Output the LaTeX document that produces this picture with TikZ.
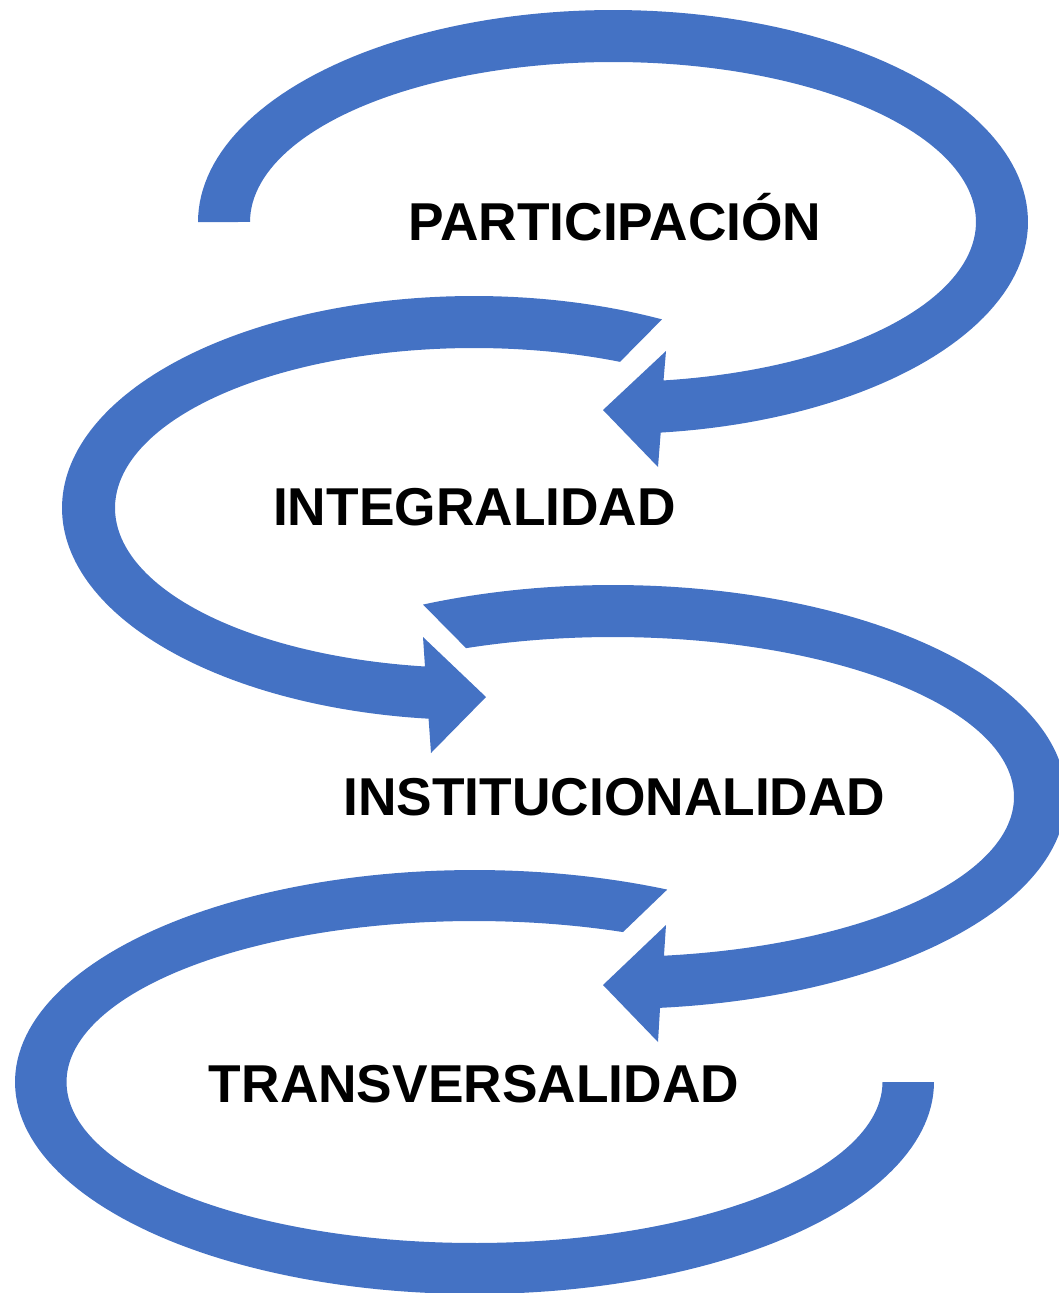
\documentclass[tikz,border=0pt]{standalone}
\usepackage{fontspec}
\setmainfont{Liberation Sans}
\definecolor{bandblue}{HTML}{4472C4}
\begin{document}
\begin{tikzpicture}[x=1pt,y=-1pt,
  band/.style={fill=bandblue,draw=none},
  lbl/.style={anchor=base,inner sep=0pt,font=\fontsize{53.3}{60}\selectfont\bfseries,text=black}]
\path[use as bounding box] (0,0) rectangle (1059,1293);
\clip (0,0) rectangle (1059,1293);
% arrow 1
\fill[band] plot[domain=180:443.4,samples=150] ({613+415*cos(\x)},{222+212*sin(\x)})
  -- (658,467) -- (603,410) -- (666,351)
  -- plot[domain=442:180,samples=150] ({613+363*cos(\x)},{222+160*sin(\x)}) -- cycle;
% arrow 2
\fill[band] plot[domain=-62.85:-263.67,samples=150] ({474+412*cos(\x)},{508+212*sin(\x)})
  -- (431,753) -- (486,697) -- (423,637)
  -- plot[domain=-262.15:-66,samples=150] ({474+359*cos(\x)},{508+160*sin(\x)}) -- cycle;
% arrow 3
\fill[band] plot[domain=-114.8:84.04,samples=150] ({613+453*cos(\x)},{797+212*sin(\x)})
  -- (658,1042) -- (603,985) -- (666,925)
  -- plot[domain=82.7:-111.5,samples=150] ({613+401*cos(\x)},{797+160*sin(\x)}) -- cycle;
% arrow 4
\fill[band] plot[domain=-65.2:-360,samples=180] ({474.5+459.5*cos(\x)},{1082+212*sin(\x)})
  -- plot[domain=-360:-68.65,samples=180] ({474.5+408*cos(\x)},{1082+161*sin(\x)}) -- cycle;
% labels
\node[lbl] (l1) at (615,240) {PARTICIPACIÓN};
\node[lbl] (l2) at (474.5,525) {INTEGRALIDAD};
\node[lbl] (l3) at (614.5,815) {INSTITUCIONALIDAD};
\node[lbl] (l4) at (474,1102) {TRANSVERSALIDAD};
\end{tikzpicture}
\end{document}
